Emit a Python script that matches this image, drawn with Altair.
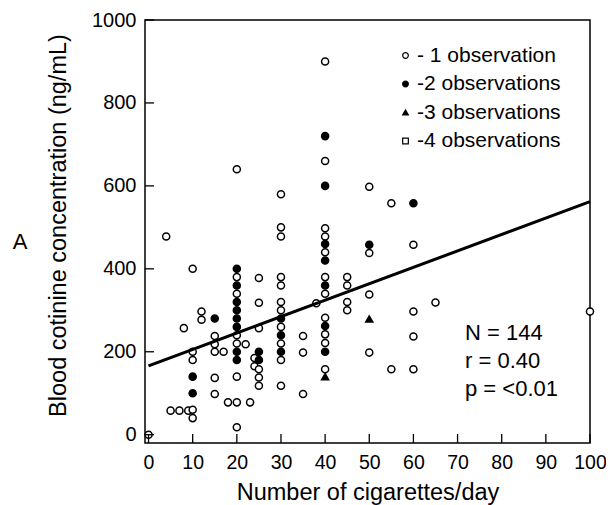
import altair as alt
import pandas as pd

# ---- data ----
cig = [0, 4, 5, 7, 9, 8,
       10, 10, 10, 10, 10, 10, 10,
       12, 12,
       15, 15, 15, 15, 15, 15,
       17, 18,
       20, 20, 20, 20, 20, 20, 20, 20, 20, 20, 20, 20, 20, 20, 20, 20,
       22, 23, 24, 24,
       25, 25, 25, 25, 25, 25, 25, 25,
       30, 30, 30, 30, 30, 30, 30, 30, 30, 30, 30, 30, 30, 30,
       35, 35, 35, 38,
       40, 40, 40, 40, 40, 40, 40, 40, 40, 40, 40, 40, 40, 40, 40, 40, 40, 40, 40,
       45, 45, 45, 45,
       50, 50, 50, 50, 50, 50,
       55, 55,
       60, 60, 60, 60, 60,
       65, 100]
cot = [0, 478, 58, 58, 58, 257,
       400, 200, 180, 140, 100, 60, 40,
       297, 277,
       280, 238, 218, 200, 137, 98,
       200, 78,
       640, 400, 380, 360, 340, 320, 300, 280, 260, 240, 220, 200, 180, 140, 78, 18,
       218, 78, 185, 165,
       378, 318, 257, 200, 180, 158, 138, 118,
       580, 500, 478, 380, 360, 320, 300, 280, 260, 240, 220, 200, 180, 118,
       238, 198, 98, 317,
       900, 720, 660, 600, 498, 478, 460, 440, 420, 380, 360, 340, 282, 262, 242, 221, 200, 158, 140,
       380, 360, 320, 300,
       598, 458, 438, 338, 279, 198,
       558, 158,
       558, 458, 297, 237, 158,
       319, 297]
nobs = [1, 1, 1, 1, 1, 1,
        1, 1, 1, 2, 2, 1, 1,
        1, 1,
        2, 1, 1, 1, 1, 1,
        1, 1,
        1, 2, 1, 2, 1, 2, 2, 2, 2, 1, 1, 2, 2, 1, 1, 1,
        1, 1, 1, 1,
        1, 1, 1, 2, 2, 1, 1, 1,
        1, 1, 1, 1, 1, 1, 1, 2, 1, 2, 1, 2, 1, 1,
        1, 1, 1, 1,
        1, 2, 1, 2, 1, 1, 2, 1, 2, 1, 2, 1, 1, 2, 1, 1, 2, 1, 3,
        1, 1, 1, 1,
        1, 2, 1, 1, 3, 1,
        1, 1,
        2, 1, 1, 1, 1,
        1, 1]
legend_labels = ["- 1 observation", "-2 observations", "-3 observations", "-4 observations"]
fit_x = [0, 100]
fit_y = [166, 562]
x_ticks = [0, 10, 20, 30, 40, 50, 60, 70, 80, 90, 100]
y_ticks = [0, 200, 400, 600, 800, 1000]
stats_lines = ["N = 144", "r = 0.40", "p = <0.01"]
panel_label = "A"

FONT = "Liberation Sans"

df = pd.DataFrame({"cig": cig, "cot": cot,
                   "obs": [legend_labels[n - 1] for n in nobs]})
fit_df = pd.DataFrame({"cig": fit_x, "cot": fit_y})

xscale = alt.Scale(domain=[-0.8, 100], nice=False, zero=False)
yscale = alt.Scale(domain=[-20, 1000], nice=False, zero=False)

xaxis = alt.Axis(values=x_ticks, tickSize=0, domain=False, grid=False, format="d",
                 labelFont=FONT, labelFontSize=19.5, labelColor="black",
                 labelPadding=10, labelFlush=False,
                 title="Number of cigarettes/day", titleFont=FONT,
                 titleFontSize=23.5, titleFontWeight="normal",
                 titleColor="black", titleY=49, titleBaseline="middle")
yaxis = alt.Axis(values=y_ticks, tickSize=0, domain=False, grid=False, format="d",
                 labelFont=FONT, labelFontSize=20, labelColor="black",
                 labelPadding=9, labelFlush=False,
                 title="Blood cotinine concentration (ng/mL)", titleFont=FONT,
                 titleFontSize=23.5, titleFontWeight="normal",
                 titleColor="black", titleX=-75, titleY=205)

legend = alt.Legend(orient="none", legendX=250, legendY=25, title=None, padding=0,
                    symbolSize=32, symbolStrokeColor="black", symbolStrokeWidth=1.2,
                    labelFont=FONT, labelFontSize=21, labelColor="black",
                    labelOffset=1, rowPadding=6.5)

points = alt.Chart(df).mark_point(filled=True, strokeWidth=1.5,
                                  size=50, opacity=1).encode(
    x=alt.X("cig:Q", scale=xscale, axis=xaxis),
    y=alt.Y("cot:Q", scale=yscale, axis=yaxis),
    shape=alt.Shape("obs:N", scale=alt.Scale(domain=legend_labels,
                                             range=["circle", "circle", "triangle-up", "square"]),
                    legend=legend),
    fill=alt.Fill("obs:N", scale=alt.Scale(domain=legend_labels,
                                           range=["white", "black", "black", "white"]),
                  legend=legend),
    stroke=alt.Stroke("obs:N", scale=alt.Scale(domain=legend_labels,
                                               range=["black", "black", "black", "black"]),
                      legend=legend),
)

fit_line = alt.Chart(fit_df).mark_line(color="black", strokeWidth=3).encode(
    x=alt.X("cig:Q", scale=xscale, axis=xaxis),
    y=alt.Y("cot:Q", scale=yscale, axis=yaxis),
)

xt = alt.Chart(pd.DataFrame({"cig": x_ticks})).mark_rule(color="black", strokeWidth=1.3).encode(
    x=alt.X("cig:Q", scale=xscale, axis=xaxis),
    y=alt.value(423), y2=alt.value(414),
)
yt = alt.Chart(pd.DataFrame({"cot": y_ticks})).mark_rule(color="black", strokeWidth=1.3).encode(
    y=alt.Y("cot:Q", scale=yscale, axis=yaxis),
    x=alt.value(0), x2=alt.value(9),
)

stats_layers = []
for i, s in enumerate(stats_lines):
    stats_layers.append(
        alt.Chart(pd.DataFrame({"s": [s]})).mark_text(
            align="left", baseline="middle", font=FONT, fontSize=22, color="black"
        ).encode(text="s:N", x=alt.value(320), y=alt.value(313 + 28 * i))
    )

a_text = alt.Chart(pd.DataFrame({"s": [panel_label]})).mark_text(
    align="center", baseline="middle", font=FONT, fontSize=22, color="black"
).encode(text="s:N", x=alt.value(-125), y=alt.value(222))

chart = alt.layer(points, fit_line, xt, yt, a_text, *stats_layers).properties(
    width=445, height=423,
    autosize=alt.AutoSizeParams(type="none"),
    padding={"left": 137, "top": 12, "right": 16, "bottom": 62},
).configure_view(stroke="black", strokeWidth=1.5)

chart.save("out.html", embed_options={"renderer": "svg", "actions": False})
